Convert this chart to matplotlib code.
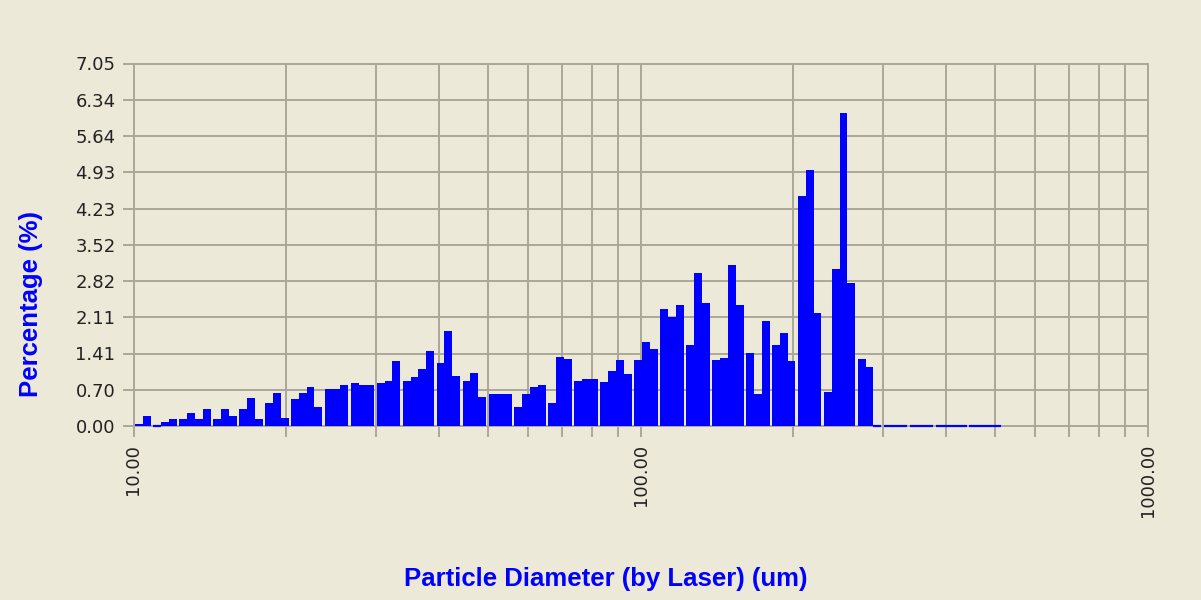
import numpy as np
import matplotlib
matplotlib.use("Agg")
import matplotlib.pyplot as plt
from matplotlib.ticker import FixedLocator, NullFormatter

# percentage per size class, read left to right (bins of equal log width)
pct = [0.04, 0.20,
       0.00, 0.08, 0.13,
       0.13, 0.25, 0.13, 0.33,
       0.13, 0.33, 0.20,
       0.33, 0.55, 0.13,
       0.44, 0.64, 0.16,
       0.52, 0.64, 0.75, 0.37,
       0.71, 0.71, 0.79,
       0.83, 0.80, 0.80,
       0.83, 0.87, 1.26,
       0.87, 0.95, 1.10, 1.45,
       1.23, 1.85, 0.98,
       0.87, 1.03, 0.56,
       0.63, 0.63, 0.63,
       0.37, 0.63, 0.75, 0.79,
       0.44, 1.34, 1.30,
       0.87, 0.91, 0.91,
       0.86, 1.06, 1.29, 1.02,
       1.29, 1.64, 1.49,
       2.28, 2.12, 2.35,
       1.57, 2.97, 2.39,
       1.29, 1.33, 3.13, 2.35,
       1.42, 0.63, 2.04,
       1.57, 1.81, 1.26,
       4.47, 4.98, 2.20,
       0.67, 3.06, 6.08, 2.79,
       1.30, 1.15, 0.00,
       0.00, 0.00, 0.00,
       0.00, 0.00, 0.00,
       0.00, 0.00, 0.00, 0.00,
       0.00, 0.00, 0.00, 0.00]

# how the bars are bunched together on screen (thin gaps between bunches)
group_sizes = [2, 3, 4, 3, 3, 3, 4, 3, 3, 3, 4, 3, 3, 3, 4, 3, 3, 4, 3, 3, 3, 4,
               3, 3, 3, 4, 3, 3, 3, 4, 4]

y_ticklabels = ["0.00", "0.70", "1.41", "2.11", "2.82", "3.52",
                "4.23", "4.93", "5.64", "6.34", "7.05"]
x_major = [10, 100, 1000]
x_ticklabels = ["10.00", "100.00", "1000.00"]

bg = "#ECE9D8"
grid_c = "#ACA899"
blue = "#0000FF"

# bar layout in decades
log_start = 1.003
bar_w = 0.01550
gap_w = 0.00472

lefts = []
pos = log_start
for n in group_sizes:
    for k in range(n):
        lefts.append(pos)
        pos += bar_w
    pos += gap_w
lefts = np.array(lefts)
left_um = 10 ** lefts
width_um = 10 ** (lefts + bar_w) - left_um

fig = plt.figure(figsize=(12.01, 6.0), dpi=100, facecolor=bg)
ax = fig.add_axes([133.5 / 1201, 1 - 426 / 600, (1148 - 133.5) / 1201, (426 - 63.5) / 600])
ax.set_facecolor(bg)

pct = np.array(pct)
nz = pct > 0
ax.bar(left_um[nz], pct[nz], width=width_um[nz], align="edge", color=blue,
       edgecolor="none", zorder=3)
# empty classes show up as a flat blue line on the base
for l, w in zip(left_um[~nz], width_um[~nz]):
    ax.plot([l, l + w], [0, 0], color=blue, linewidth=1.6,
            solid_capstyle="butt", clip_on=False, zorder=4)

ax.set_xscale("log")
ax.set_xlim(10, 1000)
ax.set_ylim(0, 7.05)

ax.xaxis.set_major_locator(FixedLocator(x_major))
ax.set_xticks(x_major)
ax.set_xticklabels(x_ticklabels, rotation=90, ha="center", va="top")
minor = [m * d for d in (10, 100) for m in range(2, 10)]
ax.xaxis.set_minor_locator(FixedLocator(minor))
ax.xaxis.set_minor_formatter(NullFormatter())

yt = [0.705 * i for i in range(len(y_ticklabels))]
ax.set_yticks(yt)
ax.set_yticklabels(y_ticklabels)

ax.grid(which="both", axis="x", color=grid_c, linewidth=1.4)
ax.grid(which="major", axis="y", color=grid_c, linewidth=1.4)
ax.set_axisbelow(True)

for s in ax.spines.values():
    s.set_color(grid_c)
    s.set_linewidth(1.4)

ax.tick_params(which="both", color=grid_c, width=1.4, length=8,
               labelcolor="#222222", labelsize=13)
ax.tick_params(axis="y", pad=5)
ax.tick_params(axis="x", pad=5)
for lab in ax.get_xticklabels() + ax.get_yticklabels():
    lab.set_family("DejaVu Sans")

fig.text(31 / 1201, 1 - 304 / 600, "Percentage (%)", rotation=90, color=blue,
         fontsize=18.5, fontweight="bold", family="Liberation Sans",
         ha="center", va="center")
fig.text(606 / 1201, 1 - 579 / 600, "Particle Diameter (by Laser) (um)", color=blue,
         fontsize=18.5, fontweight="bold", family="Liberation Sans",
         ha="center", va="center")

fig.savefig("out.png", dpi=100, facecolor=bg)
